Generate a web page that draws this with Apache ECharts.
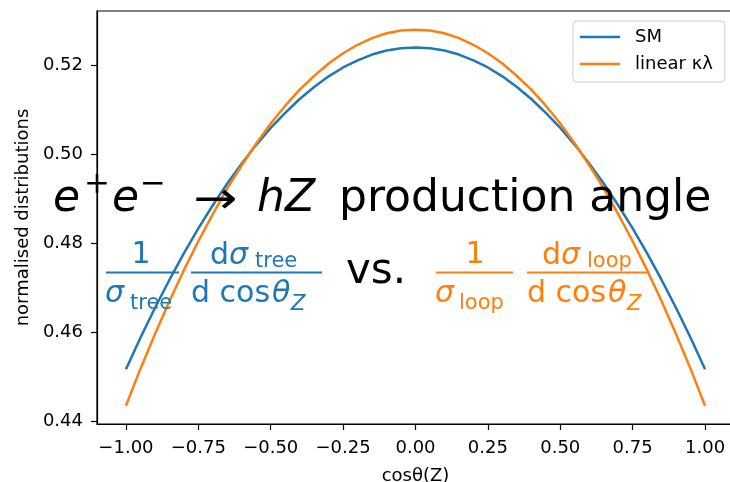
<!DOCTYPE html>
<html>
<head>
<meta charset="utf-8">
<script src="https://cdn.jsdelivr.net/npm/echarts@6/dist/echarts.min.js"></script>
<style>
  html, body { margin: 0; padding: 0; background: #fff; }
  #chart { width: 730px; height: 482px; }
</style>
</head>
<body>
<div id="chart"></div>
<script>
// values
const cosTheta = [-1, -0.95, -0.9, -0.85, -0.8, -0.75, -0.7, -0.65, -0.6, -0.55, -0.5,
                  -0.45, -0.4, -0.35, -0.3, -0.25, -0.2, -0.15, -0.1, -0.05, 0,
                  0.05, 0.1, 0.15, 0.2, 0.25, 0.3, 0.35, 0.4, 0.45, 0.5,
                  0.55, 0.6, 0.65, 0.7, 0.75, 0.8, 0.85, 0.9, 0.95, 1];
const smValues = [0.4516, 0.4587, 0.4654, 0.4717, 0.4777, 0.4833, 0.4885, 0.4934, 0.4979, 0.5021, 0.5059,
                  0.5093, 0.5124, 0.5151, 0.5175, 0.5195, 0.5211, 0.5224, 0.5233, 0.5238, 0.524,
                  0.5238, 0.5233, 0.5224, 0.5211, 0.5195, 0.5175, 0.5151, 0.5124, 0.5093, 0.5059,
                  0.5021, 0.4979, 0.4934, 0.4885, 0.4833, 0.4777, 0.4717, 0.4654, 0.4587, 0.4516];
const linearValues = [0.4434, 0.4517, 0.4595, 0.4669, 0.4739, 0.4804, 0.4865, 0.4923, 0.4975, 0.5024, 0.5069,
                      0.5109, 0.5145, 0.5176, 0.5204, 0.5227, 0.5246, 0.5261, 0.5272, 0.5278, 0.528,
                      0.5278, 0.5272, 0.5261, 0.5246, 0.5227, 0.5204, 0.5176, 0.5145, 0.5109, 0.5069,
                      0.5024, 0.4975, 0.4923, 0.4865, 0.4804, 0.4739, 0.4669, 0.4595, 0.4517, 0.4434];
const xTicks = [-1, -0.75, -0.5, -0.25, 0, 0.25, 0.5, 0.75, 1];
const yTicks = [0.44, 0.46, 0.48, 0.50, 0.52];
const seriesNames = ['SM', 'linear κλ'];

const BLUE = '#1f77b4';
const ORANGE = '#ff7f0e';
const FONT = 'DejaVu Sans';

const chart = echarts.init(document.getElementById('chart'));

function fmt(v) {
  return (v < 0 ? '\u2212' : '') + Math.abs(v).toFixed(2);
}

// small helper for the overlay texts (mathtext look-alike)
function txt(x, y, text, size, color, opts) {
  opts = opts || {};
  return {
    type: 'text', x: x, y: y, z: 100,
    scaleX: opts.scaleX || 1,
    style: {
      text: text,
      fontSize: size,
      fontFamily: FONT,
      fontStyle: opts.italic ? 'italic' : 'normal',
      fill: color,
      align: opts.align || 'left',
      verticalAlign: 'middle',
      rich: opts.rich
    }
  };
}
function bar(x1, x2, y, color) {
  return {
    type: 'line', z: 100,
    shape: { x1: x1, y1: y, x2: x2, y2: y },
    style: { stroke: color, lineWidth: 2 }
  };
}
function dSigma(color) {
  return {
    a: { fontSize: 30, fontFamily: FONT, color: color },
    b: { fontSize: 30, fontFamily: FONT, color: color, fontStyle: 'italic' }
  };
}

const overlay = [
  // title line
  txt(53, 200, 'e', 44, '#000', { italic: true }),
  txt(97, 185, '+', 31, '#000', { align: 'center' }),
  txt(112, 200, 'e', 44, '#000', { italic: true }),
  txt(153, 185, '\u2212', 31, '#000', { align: 'center' }),
  txt(215, 202, '\u2192', 44, '#000', { align: 'center', scaleX: 1.2 }),
  txt(257, 200, 'hZ', 44, '#000', { italic: true }),
  txt(339, 200, 'production angle', 44, '#000'),

  // blue: 1/sigma_tree dsigma_tree/dcos
  txt(141, 255, '1', 30, BLUE, { align: 'center' }),
  bar(106, 179, 272.5, BLUE),
  txt(105, 294, 'σ', 30, BLUE, { italic: true }),
  txt(130, 304, 'tree', 21, BLUE),
  bar(191, 322, 272.5, BLUE),
  txt(210, 256, '{a|d}{b|σ}', 30, BLUE, { rich: dSigma(BLUE) }),
  txt(255, 262, 'tree', 21, BLUE),
  txt(191, 294, 'd cos', 30, BLUE),
  txt(272, 294, 'θ', 30, BLUE, { italic: true }),
  txt(291, 305, 'Z', 21, BLUE, { italic: true }),

  txt(346, 272, 'vs.', 42, '#000'),

  // orange: 1/sigma_loop dsigma_loop/dcos
  txt(475, 255, '1', 30, ORANGE, { align: 'center' }),
  bar(436, 513, 272.5, ORANGE),
  txt(435, 294, 'σ', 30, ORANGE, { italic: true }),
  txt(459, 304, 'loop', 21, ORANGE),
  bar(527, 648, 272.5, ORANGE),
  txt(542, 256, '{a|d}{b|σ}', 30, ORANGE, { rich: dSigma(ORANGE) }),
  txt(587, 262, 'loop', 21, ORANGE),
  txt(527, 294, 'd cos', 30, ORANGE),
  txt(608, 294, 'θ', 30, ORANGE, { italic: true }),
  txt(627, 305, 'Z', 21, ORANGE, { italic: true })
];

const option = {
  animation: false,
  backgroundColor: '#fff',
  textStyle: { fontFamily: FONT },
  grid: {
    left: 97, top: 11, width: 637, bottom: 58,
    outerBoundsMode: 'none',
    show: true, borderColor: '#000', borderWidth: 1.2
  },
  legend: {
    orient: 'vertical',
    left: 573, top: 21,
    padding: [6, 12, 8, 7],
    itemGap: 7,
    itemWidth: 40, itemHeight: 2.5,
    icon: 'rect',
    backgroundColor: 'rgba(255,255,255,0.8)',
    borderColor: '#cccccc', borderWidth: 1, borderRadius: 4,
    textStyle: { fontSize: 18, fontFamily: FONT, color: '#000', lineHeight: 20, padding: [0, 0, 0, 10] },
    data: seriesNames
  },
  xAxis: {
    type: 'value',
    min: -1.1, max: 1.1,
    name: 'cosθ(Z)',
    nameLocation: 'middle',
    nameGap: 43,
    nameTextStyle: { fontSize: 18, fontFamily: FONT, color: '#000' },
    axisLine: { onZero: false, lineStyle: { color: '#000', width: 1.2 } },
    axisTick: { length: 6, lineStyle: { color: '#000', width: 1.2 }, customValues: xTicks },
    axisLabel: { fontSize: 18, fontFamily: FONT, color: '#000', margin: 15, customValues: xTicks, formatter: fmt },
    splitLine: { show: false }
  },
  yAxis: {
    type: 'value',
    min: 0.4393, max: 0.5322,
    name: 'normalised distributions',
    nameLocation: 'middle',
    nameGap: 64,
    nameTextStyle: { fontSize: 18, fontFamily: FONT, color: '#000' },
    axisLine: { show: true, onZero: false, lineStyle: { color: '#000', width: 1.2 } },
    axisTick: { show: true, length: 6, lineStyle: { color: '#000', width: 1.2 }, customValues: yTicks },
    axisLabel: { fontSize: 18, fontFamily: FONT, color: '#000', margin: 14, customValues: yTicks,
                 formatter: v => v.toFixed(2) },
    splitLine: { show: false }
  },
  series: [
    {
      name: seriesNames[0], type: 'line', showSymbol: false,
      lineStyle: { color: BLUE, width: 2.5 }, itemStyle: { color: BLUE },
      data: cosTheta.map((c, i) => [c, smValues[i]])
    },
    {
      name: seriesNames[1], type: 'line', showSymbol: false,
      lineStyle: { color: ORANGE, width: 2.5 }, itemStyle: { color: ORANGE },
      data: cosTheta.map((c, i) => [c, linearValues[i]])
    }
  ],
  graphic: overlay
};

chart.setOption(option);
</script>
</body>
</html>
